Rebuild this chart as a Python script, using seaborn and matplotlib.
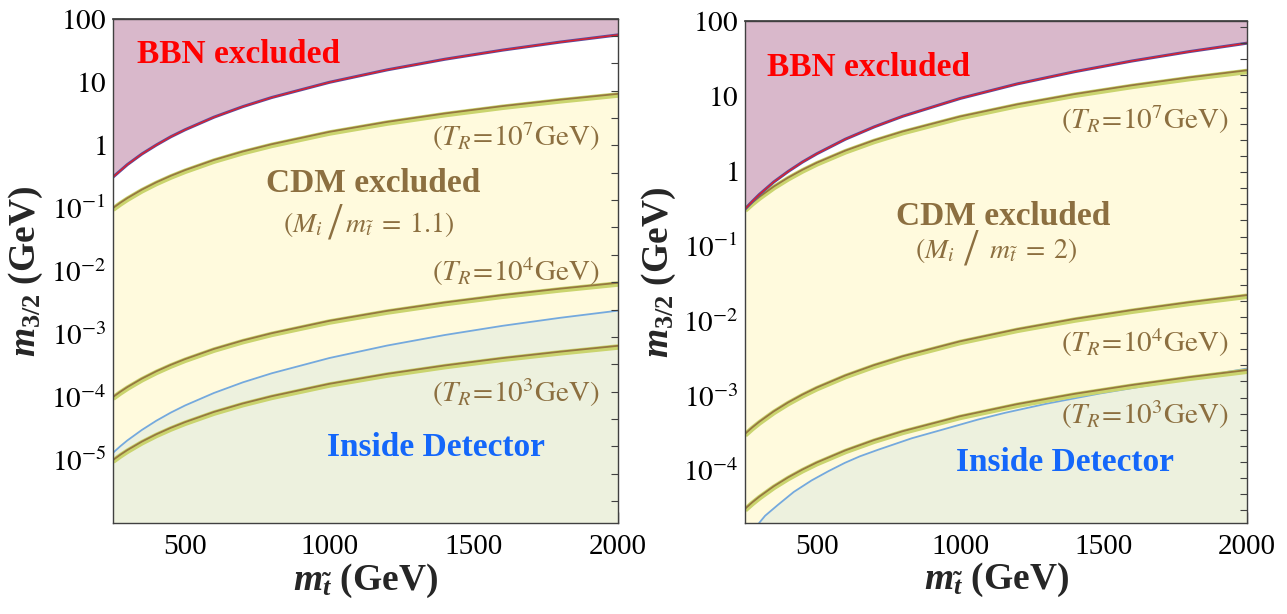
import numpy as np
import pandas as pd
import matplotlib
matplotlib.use("Agg")
import matplotlib.pyplot as plt
import matplotlib.transforms as mtransforms
import seaborn as sns
from matplotlib.ticker import MultipleLocator, NullLocator

# ===============================
# DATA
# ===============================
m_stop = [250, 275, 300, 350, 400, 450, 500, 600, 700, 800, 1000, 1200, 1400, 1600, 1800, 2000]

# left panel  (M_i / m_stop = 1.1)
bbn_left = [0.31, 0.39, 0.49, 0.72, 1.0, 1.35, 1.75, 2.77, 4.07, 5.68, 9.9, 15.6, 23.0, 32.1, 43.1, 56.0]
tr7_left = [0.100, 0.121, 0.144, 0.196, 0.256, 0.324, 0.40, 0.58, 0.79, 1.03, 1.62, 2.33, 3.17, 4.15, 5.25, 6.5]
tr4_left = [1.00e-4, 1.21e-4, 1.44e-4, 1.96e-4, 2.56e-4, 3.24e-4, 4.0e-4, 5.8e-4, 7.9e-4, 1.03e-3,
            1.62e-3, 2.33e-3, 3.17e-3, 4.15e-3, 5.25e-3, 6.5e-3]
tr3_left = [1.00e-5, 1.21e-5, 1.44e-5, 1.96e-5, 2.56e-5, 3.24e-5, 4.0e-5, 5.8e-5, 7.9e-5, 1.03e-4,
            1.62e-4, 2.33e-4, 3.17e-4, 4.15e-4, 5.25e-4, 6.5e-4]
det_left = [1.30e-5, 1.65e-5, 2.05e-5, 3.0e-5, 4.2e-5, 5.65e-5, 7.35e-5, 1.16e-4, 1.71e-4, 2.38e-4,
            4.16e-4, 6.56e-4, 9.65e-4, 1.35e-3, 1.81e-3, 2.35e-3]

# right panel  (M_i / m_stop = 2)
bbn_right = [0.31, 0.39, 0.485, 0.71, 0.98, 1.31, 1.69, 2.65, 3.86, 5.36, 9.26, 14.5, 21.1, 29.3, 39.1, 50.6]
tr7_right = [0.31, 0.377, 0.45, 0.618, 0.812, 1.034, 1.284, 1.865, 2.56, 3.36, 5.32, 7.73, 10.6, 13.9, 17.7, 22.0]
tr4_right = [3.1e-4, 3.77e-4, 4.5e-4, 6.18e-4, 8.12e-4, 1.034e-3, 1.284e-3, 1.865e-3, 2.56e-3, 3.36e-3,
             5.32e-3, 7.73e-3, 1.06e-2, 1.39e-2, 1.77e-2, 2.2e-2]
tr3_right = [3.1e-5, 3.77e-5, 4.5e-5, 6.18e-5, 8.12e-5, 1.034e-4, 1.284e-4, 1.865e-4, 2.56e-4, 3.36e-4,
             5.32e-4, 7.73e-4, 1.06e-3, 1.39e-3, 1.77e-3, 2.2e-3]
m_det_right = [299, 320, 365, 420, 482, 540, 598, 650, 714, 831, 947, 1062, 1156, 1300, 1487, 1650, 1835, 2000]
det_right = [2.0e-5, 2.5e-5, 3.5e-5, 5.2e-5, 7.4e-5, 9.8e-5, 1.27e-4, 1.55e-4, 1.9e-4, 2.7e-4, 3.6e-4,
             4.8e-4, 5.9e-4, 7.8e-4, 1.07e-3, 1.36e-3, 1.8e-3, 2.3e-3]

x_ticks = [500, 1000, 1500, 2000]
y_ticks_left = [1e-5, 1e-4, 1e-3, 1e-2, 1e-1, 1, 10, 100]
y_labels_left = ["$10^{-5}$", "$10^{-4}$", "$10^{-3}$", "$10^{-2}$", "$10^{-1}$", "$1$", "$10$", "$100$"]
y_ticks_right = [1e-4, 1e-3, 1e-2, 1e-1, 1, 10, 100]
y_labels_right = ["$10^{-4}$", "$10^{-3}$", "$10^{-2}$", "$10^{-1}$", "$1$", "$10$", "$100$"]
ratio_text = ["1.1", "2"]

# ===============================
# STYLE
# ===============================
sns.set_theme(style="ticks")
plt.rcParams["font.family"] = ["Liberation Serif", "DejaVu Serif"]
plt.rcParams["mathtext.fontset"] = "stix"
plt.rcParams["mathtext.rm"] = "Liberation Serif:bold"
plt.rcParams["mathtext.it"] = "Liberation Serif:italic:bold"
plt.rcParams["mathtext.bf"] = "Liberation Serif:bold"

PURPLE = "#d9b8cb"
YELLOW = "#fffadd"
GREEN = "#edf1de"
BROWN = "#8c6f40"
LINE_BROWN = "#96783f"
HALO = "#cad46e"
BLUE_LINE = "#74a9de"
BLUE_TEXT = "#1467fa"
FRAME = "#404040"

fig = plt.figure(figsize=(12.87, 6.14), dpi=100)
ax_l = fig.add_axes([0.0878, 0.1482, 0.3924, 0.8208])
ax_r = fig.add_axes([0.5789, 0.1482, 0.3900, 0.8176])


def draw_panel(ax, bbn, tr7, tr4, tr3, m_det, det, ylim, yt, ylab):
    ax.set_yscale("log")
    ax.fill_between(m_stop, bbn, 1e3, color=PURPLE, lw=0)
    ax.fill_between(m_stop, 1e-8, tr7, color=YELLOW, lw=0)
    ax.fill_between(m_det, 1e-8, det, color=GREEN, lw=0)

    sns.lineplot(x=m_det, y=det, ax=ax, color=BLUE_LINE, lw=1.3, sort=False, estimator=None)
    # halo sits slightly below each T_R line
    below = mtransforms.offset_copy(ax.transData, fig=fig, x=0, y=-1.2, units="dots")
    for tr in (tr7, tr4, tr3):
        ax.plot(m_stop, tr, color=HALO, lw=4.0, transform=below, solid_capstyle="butt")
        sns.lineplot(x=m_stop, y=tr, ax=ax, color=LINE_BROWN, lw=1.3, sort=False, estimator=None)
    sns.lineplot(x=m_stop, y=bbn, ax=ax, color="#5a4c9e", lw=2.2, sort=False, estimator=None)
    sns.lineplot(x=m_stop, y=bbn, ax=ax, color="#e0202a", lw=1.0, sort=False, estimator=None)

    ax.set_xlim(250, 2000)
    ax.set_ylim(*ylim)
    ax.set_xticks(x_ticks)
    ax.set_xticklabels([str(t) for t in x_ticks])
    ax.xaxis.set_minor_locator(MultipleLocator(100))
    ax.set_yticks(yt, ylab)
    ax.yaxis.set_minor_locator(NullLocator())
    ax.tick_params(which="major", direction="in", length=8, width=1, color=FRAME,
                   labelsize=21, labelcolor="black", top=False, right=False)
    ax.tick_params(axis="x", which="major", pad=8)
    ax.tick_params(axis="y", which="major", pad=5)
    ax.tick_params(which="minor", direction="in", length=4, width=0.8, color=FRAME,
                   top=False, right=False)
    for s in ax.spines.values():
        s.set_color(FRAME)
        s.set_linewidth(1.0)
    ax.grid(False)
    ax.set_xlabel(r"$m_{\tilde{t}}$ (GeV)", fontsize=27, fontweight="bold", math_fontfamily="custom")
    ax.set_ylabel(r"$m_{3/2}$ (GeV)", fontsize=27, fontweight="bold", math_fontfamily="custom")

    top = ax.secondary_xaxis("top")
    top.set_xticks(list(range(300, 2000, 100)))
    top.tick_params(direction="in", length=4, width=0.8, color=FRAME, labeltop=False)
    top.spines["top"].set_color(FRAME)


draw_panel(ax_l, bbn_left, tr7_left, tr4_left, tr3_left, m_stop, det_left,
           (1e-6, 100), y_ticks_left, y_labels_left)
draw_panel(ax_r, bbn_right, tr7_right, tr4_right, tr3_right, m_det_right, det_right,
           (2e-5, 100), y_ticks_right, y_labels_right)

ax_l.yaxis.set_label_coords(-0.135, 0.5)
ax_r.yaxis.set_label_coords(-0.133, 0.5)
ax_l.xaxis.set_label_coords(0.5, -0.076)
ax_r.xaxis.set_label_coords(0.5, -0.076)

# right-hand frame ticks
for ax, y0, step, n, top_px, h in [(ax_l, 36, 27.35, 18, 19, 504), (ax_r, 27.2, 16.1, 31, 21, 502)]:
    ax2 = ax.twinx()
    ax2.set_ylim(0, 1)
    pos = [(top_px + h - (y0 + step * k)) / h for k in range(n)]
    ax2.set_yticks([p for p in pos if 0 < p < 1])
    ax2.tick_params(axis="y", direction="in", length=5, width=0.8, color=FRAME, labelright=False)
    ax2.yaxis.set_minor_locator(NullLocator())
    for s in ax2.spines.values():
        s.set_visible(False)

# ===============================
# ANNOTATIONS
# ===============================
panels = [
    (ax_l, dict(bbn=(0.047, 0.929), cdm=(0.515, 0.673), mi=(0.414, 0.577), sl=(0.440, 0.591),
                mt=(0.459, 0.577), t7=0.766, t4=0.498, t3=0.258, det=(0.64, 0.149)), ratio_text[0]),
    (ax_r, dict(bbn=(0.044, 0.908), cdm=(0.514, 0.61), mi=(0.418, 0.528), sl=(0.450, 0.540),
                mt=(0.486, 0.528), t7=0.803, t4=0.359, t3=0.215, det=(0.637, 0.12)), ratio_text[1]),
]
for ax, p, ratio in panels:
    tr = ax.transAxes
    ax.text(*p["bbn"], "BBN excluded", transform=tr, ha="left", va="center",
            fontsize=24, fontweight="bold", color="#ff0000")
    ax.text(*p["cdm"], "CDM excluded", transform=tr, ha="center", va="center",
            fontsize=24, fontweight="bold", color=BROWN)
    ax.text(*p["mi"], r"$(M_i$", transform=tr, ha="right", va="baseline", fontsize=20, color=BROWN)
    ax.text(*p["sl"], "/", transform=tr, ha="center", va="center", fontsize=38, color=BROWN)
    ax.text(*p["mt"], r"$m_{\tilde{t}}\;=\;%s)$" % ratio, transform=tr, ha="left", va="baseline",
            fontsize=20, color=BROWN)
    for key, e in (("t7", 7), ("t4", 4), ("t3", 3)):
        ax.text(0.962, p[key], r"$(T_R\!=\!10^{%d}\mathrm{GeV})$" % e, transform=tr,
                ha="right", va="center", fontsize=21, color=BROWN)
    ax.text(*p["det"], "Inside Detector", transform=tr, ha="center", va="center",
            fontsize=24, fontweight="bold", color=BLUE_TEXT)

fig.savefig("out.png", dpi=100)
